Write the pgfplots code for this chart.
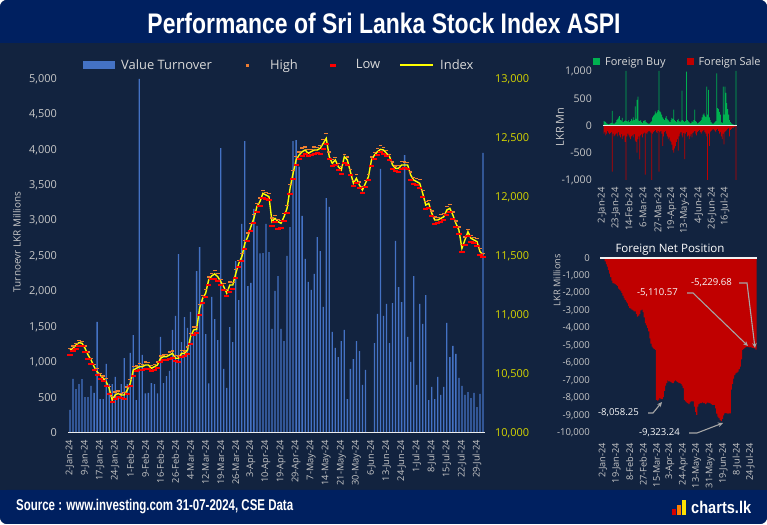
\documentclass[border=0pt]{standalone}
\usepackage{pgfplots}
\pgfplotsset{compat=1.18}
\usepackage{pgfplotstable}
\usetikzlibrary{arrows.meta}
\usepackage{graphicx}
\usepackage{fontspec}
\setmainfont{Open Sans}
\newfontfamily\titlefont{Liberation Sans}

\definecolor{panel}{RGB}{18,35,63}
\definecolor{banner}{RGB}{0,32,96}
\definecolor{barblue}{RGB}{68,114,196}
\definecolor{idxyellow}{RGB}{255,255,0}
\definecolor{hiorange}{RGB}{237,125,49}
\definecolor{lowred}{RGB}{255,0,0}
\definecolor{ticktext}{RGB}{200,200,200}
\definecolor{legtext}{RGB}{217,217,217}
\definecolor{axisyellow}{RGB}{214,214,0}
\definecolor{buygreen}{RGB}{0,176,80}
\definecolor{salered}{RGB}{192,0,0}
\definecolor{arrowgray}{RGB}{166,166,166}

\pgfplotstableread[row sep=\\]{
i t c h l\\
0 325 10703 10718 10663\\ 1 763 10718 10738 10693\\ 2 621 10746 10761 10716\\ 3 692 10766 10786 10741\\
4 762 10760 10775 10740\\ 5 508 10718 10738 10683\\ 6 508 10661 10686 10631\\ 7 664 10619 10634 10584\\
8 565 10562 10582 10532\\ 9 1568 10520 10545 10490\\ 10 480 10492 10507 10457\\ 11 480 10463 10483 10438\\
12 975 10435 10460 10395\\ 13 692 10379 10394 10334\\ 14 692 10280 10310 10260\\ 15 791 10322 10347 10292\\
16 508 10336 10356 10306\\ 17 692 10322 10337 10297\\ 18 1059 10322 10342 10292\\ 19 692 10364 10389 10329\\
20 1130 10421 10451 10396\\ 21 1384 10534 10564 10484\\ 22 466 10548 10568 10523\\ 23 5000 10562 10587 10532\\
24 1102 10562 10582 10537\\ 25 560 10576 10601 10541\\ 26 565 10576 10596 10546\\ 27 706 10548 10573 10528\\
28 692 10562 10582 10532\\ 29 560 10576 10601 10551\\ 30 1356 10633 10653 10598\\ 31 706 10647 10662 10622\\
32 805 10647 10667 10622\\ 33 876 10661 10686 10631\\ 34 1455 10675 10695 10635\\ 35 1653 10633 10658 10613\\
36 2528 10633 10653 10598\\ 37 1285 10675 10700 10645\\ 38 1638 10675 10695 10650\\ 39 1483 10703 10728 10673\\
40 1709 10816 10846 10756\\ 41 1408 10873 10898 10833\\ 42 2288 10879 10899 10849\\ 43 2627 11057 11087 10997\\
44 1878 11141 11166 11101\\ 45 1398 11184 11214 11149\\ 46 700 11297 11322 11252\\ 47 1921 11331 11351 11301\\
48 1610 11348 11378 11308\\ 49 1313 11325 11350 11290\\ 50 4025 11283 11303 11253\\ 51 904 11240 11265 11210\\
52 636 11184 11214 11164\\ 53 1497 11254 11279 11194\\ 54 1285 11254 11274 11224\\ 55 2429 11353 11383 11313\\
56 1878 11438 11463 11408\\ 57 2952 11494 11524 11454\\ 58 4124 11607 11632 11557\\ 59 2076 11664 11694 11624\\
60 2119 11749 11774 11714\\ 61 3164 11819 11849 11779\\ 62 2924 11918 11943 11873\\ 63 2538 11961 11991 11926\\
64 2542 12031 12056 11991\\ 65 2952 12017 12037 11987\\ 66 2556 12003 12028 11978\\ 67 1469 11791 11821 11751\\
68 2006 11819 11844 11789\\ 69 2217 11791 11811 11731\\ 70 1469 11777 11802 11737\\ 71 1299 11833 11863 11798\\
72 2500 11904 11929 11864\\ 73 2909 12074 12104 12024\\ 74 4124 12201 12226 12151\\ 75 4138 12314 12344 12274\\
76 3762 12356 12381 12326\\ 77 3065 12384 12414 12349\\ 78 2458 12398 12423 12368\\ 79 2133 12370 12400 12345\\
80 2020 12384 12404 12359\\ 81 2246 12398 12423 12368\\ 82 2768 12398 12418 12373\\ 83 2570 12413 12438 12363\\
84 1780 12455 12485 12405\\ 85 3319 12497 12537 12452\\ 86 3192 12342 12382 12322\\ 87 1427 12285 12315 12260\\
88 1201 12314 12334 12274\\ 89 1073 12257 12282 12227\\ 90 1299 12229 12259 12194\\ 91 1455 12342 12362 12292\\
92 480 12314 12339 12269\\ 93 904 12215 12235 12185\\ 94 1045 12116 12141 12091\\ 95 1299 12158 12188 12118\\
96 1158 12102 12127 12072\\ 97 678 12059 12089 12034\\ 98 890 12116 12141 12081\\ 99 0 12172 12192 12142\\
100 0 12314 12339 12264\\ 101 1271 12356 12376 12326\\ 102 1681 12384 12409 12354\\ 103 3729 12404 12434 12379\\
104 1653 12398 12418 12368\\ 105 1822 12370 12395 12345\\ 106 1271 12342 12362 12312\\ 107 1836 12271 12296 12241\\
108 2712 12243 12263 12218\\ 109 2062 12243 12268 12213\\ 110 1850 12271 12301 12241\\ 111 3926 12271 12296 12246\\
112 1356 12271 12291 12241\\ 113 1003 12187 12212 12147\\ 114 2217 12144 12164 12109\\ 115 678 12130 12155 12100\\
116 1822 12116 12146 12076\\ 117 1540 12031 12056 12001\\ 118 1949 11932 11962 11897\\ 119 466 11946 11971 11906\\
120 650 11862 11882 11837\\ 121 480 11805 11830 11775\\ 122 791 11805 11825 11780\\ 123 537 11819 11849 11789\\
124 650 11833 11858 11808\\ 125 1554 11890 11920 11850\\ 126 1073 11904 11934 11869\\ 127 1229 11847 11872 11817\\
128 1116 11777 11797 11747\\ 129 777 11720 11745 11690\\ 130 664 11565 11595 11535\\ 131 537 11636 11661 11596\\
132 579 11706 11726 11666\\ 133 494 11650 11675 11620\\ 134 565 11636 11656 11606\\ 135 367 11622 11647 11582\\
136 551 11537 11562 11507\\ 137 3955 11509 11524 11494\\
}\maindata

\pgfplotstableread[row sep=\\]{
i b s\\
0 80 -150\\ 1 70 -120\\ 2 60 -180\\ 3 40 -150\\ 4 30 -100\\ 5 20 -130\\ 6 30 -160\\ 7 40 -140\\ 8 50 -120\\ 9 270 -848\\
10 40 -150\\ 11 30 -200\\ 12 50 -180\\ 13 60 -160\\ 14 100 -140\\ 15 120 -200\\ 16 150 -120\\ 17 170 -180\\ 18 100 -220\\ 19 90 -160\\
20 140 -250\\ 21 60 -200\\ 22 80 -180\\ 23 90 -300\\ 24 1000 -1000\\ 25 80 -200\\ 26 70 -150\\ 27 100 -180\\ 28 60 -220\\ 29 80 -250\\
30 120 -200\\ 31 90 -180\\ 32 150 -220\\ 33 100 -160\\ 34 350 -280\\ 35 120 -300\\ 36 470 -500\\ 37 530 -250\\ 38 90 -200\\ 39 80 -620\\
40 100 -180\\ 41 60 -160\\ 42 50 -220\\ 43 80 -150\\ 44 90 -130\\ 45 100 -900\\ 46 60 -140\\ 47 50 -160\\ 48 40 -120\\ 49 30 -100\\
50 40 -110\\ 51 60 -130\\ 52 80 -1000\\ 53 150 -150\\ 54 180 -120\\ 55 200 -100\\ 56 260 -80\\ 57 220 -120\\ 58 250 -140\\ 59 280 -100\\
60 1000 -848\\ 61 260 -120\\ 62 240 -100\\ 63 200 -150\\ 64 150 -375\\ 65 120 -200\\ 66 100 -120\\ 67 140 -100\\ 68 170 -150\\ 69 120 -200\\
70 100 -250\\ 71 80 -220\\ 72 60 -280\\ 73 100 -300\\ 74 140 -350\\ 75 120 -450\\ 76 290 -500\\ 77 100 -420\\ 78 80 -380\\ 79 60 -300\\
80 100 -250\\ 81 120 -460\\ 82 80 -200\\ 83 60 -150\\ 84 90 -120\\ 85 640 -180\\ 86 100 -220\\ 87 80 -140\\ 88 60 -618\\ 89 80 -150\\
90 990 -120\\ 91 100 -200\\ 92 80 -180\\ 93 60 -250\\ 94 40 -200\\ 95 50 -160\\ 96 80 -220\\ 97 60 -140\\ 98 100 -120\\ 99 290 -100\\
100 80 -150\\ 101 60 -180\\ 102 40 -120\\ 103 50 -100\\ 104 60 -80\\ 105 80 -120\\ 106 100 -150\\ 107 150 -120\\ 108 200 -100\\ 109 220 -80\\
110 180 -120\\ 111 160 -150\\ 112 715 -200\\ 113 200 -1000\\ 114 655 -150\\ 115 150 -375\\ 116 100 -120\\ 117 60 -100\\ 118 40 -80\\ 119 30 -60\\
120 50 -80\\ 121 60 -100\\ 122 80 -120\\ 123 957 -80\\ 124 320 -60\\ 125 300 -100\\ 126 250 -150\\ 127 200 -120\\ 128 60 -200\\ 129 50 -250\\
130 715 -150\\ 131 200 -345\\ 132 715 -120\\ 133 600 -100\\ 134 412 -80\\ 135 300 -60\\ 136 200 -50\\ 137 100 -200\\ 138 60 -80\\ 139 40 -60\\
140 30 -40\\ 141 20 -50\\ 142 10 -30\\ 143 10 -20\\ 144 1000 -1000\\
}\fordata

\pgfplotstableread[row sep=\\]{
i n\\
0 0\\ 1 -50\\ 2 -200\\ 3 -350\\ 4 -500\\ 5 -700\\ 6 -900\\ 7 -1100\\ 8 -1300\\ 9 -1430\\
10 -1450\\ 11 -1500\\ 12 -1530\\ 13 -1600\\ 14 -1750\\ 15 -1810\\ 16 -1900\\ 17 -2000\\ 18 -2150\\ 19 -2300\\
20 -2400\\ 21 -2500\\ 22 -2600\\ 23 -2750\\ 24 -2860\\ 25 -2900\\ 26 -2950\\ 27 -3000\\ 28 -3050\\ 29 -3050\\
30 -3200\\ 31 -3350\\ 32 -3300\\ 33 -3200\\ 34 -3000\\ 35 -2950\\ 36 -3100\\ 37 -3400\\ 38 -3720\\ 39 -3850\\
40 -4000\\ 41 -4200\\ 42 -4600\\ 43 -4900\\ 44 -5070\\ 45 -5150\\ 46 -5200\\ 47 -5250\\ 48 -8110\\ 49 -8150\\
50 -8100\\ 51 -8000\\ 52 -8058\\ 53 -8058\\ 54 -7950\\ 55 -7600\\ 56 -7300\\ 57 -7150\\ 58 -7000\\ 59 -7050\\
60 -7050\\ 61 -7100\\ 62 -7150\\ 63 -7150\\ 64 -7050\\ 65 -7000\\ 66 -7050\\ 67 -7100\\ 68 -7150\\ 69 -7150\\
70 -7200\\ 71 -7300\\ 72 -7430\\ 73 -8110\\ 74 -8200\\ 75 -8250\\ 76 -8300\\ 77 -8350\\ 78 -8250\\ 79 -8200\\
80 -8200\\ 81 -8200\\ 82 -8500\\ 83 -8800\\ 84 -8970\\ 85 -8500\\ 86 -8350\\ 87 -8300\\ 88 -8300\\ 89 -8250\\
90 -8300\\ 91 -8300\\ 92 -8350\\ 93 -8300\\ 94 -8250\\ 95 -8300\\ 96 -8300\\ 97 -8350\\ 98 -8400\\ 99 -8400\\
100 -8400\\ 101 -8600\\ 102 -8900\\ 103 -9070\\ 104 -9150\\ 105 -9250\\ 106 -9323\\ 107 -9200\\ 108 -9000\\ 109 -8880\\
110 -8850\\ 111 -8880\\ 112 -8900\\ 113 -8880\\ 114 -8880\\ 115 -7520\\ 116 -7200\\ 117 -6900\\ 118 -6690\\ 119 -6600\\
120 -6550\\ 121 -6500\\ 122 -6350\\ 123 -6210\\ 124 -5800\\ 125 -5250\\ 126 -5200\\ 127 -5150\\ 128 -5100\\ 129 -5070\\
130 -5080\\ 131 -5111\\ 132 -5100\\ 133 -5110\\ 134 -5130\\ 135 -5150\\ 136 -5170\\ 137 -5230\\
}\netdata

\pgfplotsset{
  /pgf/number format/1000 sep={,},
  /pgf/number format/assume math mode=true,
  scaled ticks=false,
}

\begin{document}
\begin{tikzpicture}[x=1bp,y=1bp]
\useasboundingbox (0,0) rectangle (767,525);
\fill[white] (0,0) rectangle (767,525);
\fill[panel, rounded corners=7bp] (0,1) rectangle (767,525);
% title banner
\fill[banner, rounded corners=7bp] (0,482) rectangle (767,525);
\fill[banner] (0,482) rectangle (767,492);
\node[anchor=base, inner sep=0pt, text=white] at (384,491.7)
  {\resizebox{473bp}{20.5bp}{\titlefont\bfseries Performance of Sri Lanka Stock Index ASPI}};
% footer
\fill[banner, rounded corners=7bp] (0,1) rectangle (767,35);
\fill[banner] (0,25) rectangle (767,35);
\node[anchor=base west, inner sep=0pt, text=white] at (16,14)
  {\resizebox{277bp}{11.3bp}{\titlefont\bfseries Source : www.investing.com 31-07-2024, CSE Data}};
\node[anchor=base west, inner sep=0pt, text=white] at (691,11)
  {\resizebox{60bp}{12.3bp}{\titlefont\bfseries charts.lk}};
\fill[red!85!black] (672,10) rectangle (676,16);
\fill[orange] (677,10) rectangle (681,20);
\fill[yellow!85!orange] (682,10) rectangle (686,25);

% ---------- main turnover axis ----------
\begin{axis}[
  at={(68bp,92bp)}, anchor=south west, scale only axis,
  width=417bp, height=354bp,
  xmin=-0.66, xmax=137.66, ymin=0, ymax=5000,
  axis line style={draw=none}, major tick length=0pt,
  xtick={0,5,...,135},
  xticklabels={2-Jan-24,9-Jan-24,17-Jan-24,24-Jan-24,1-Feb-24,9-Feb-24,16-Feb-24,26-Feb-24,4-Mar-24,12-Mar-24,19-Mar-24,26-Mar-24,3-Apr-24,10-Apr-24,19-Apr-24,29-Apr-24,7-May-24,14-May-24,21-May-24,30-May-24,6-Jun-24,13-Jun-24,24-Jun-24,1-Jul-24,8-Jul-24,15-Jul-24,22-Jul-24,29-Jul-24},
  ytick={0,500,...,5000},
  yticklabel style={font=\fontsize{11}{13}\selectfont, text=ticktext, inner sep=0pt, xshift=-11bp, anchor=east},
  xticklabel style={font=\fontsize{9.3}{11}\selectfont, text=ticktext, inner sep=0pt, yshift=-7bp, rotate=90, anchor=east},
]
\addplot[ybar, bar width=1.3pt, fill=barblue, draw=none] table[x=i,y=t]{\maindata};
\draw[white!85!gray, line width=1.2bp] (rel axis cs:0,0) -- (rel axis cs:1,0);
\end{axis}

% ---------- index axis ----------
\begin{axis}[
  at={(68bp,92bp)}, anchor=south west, scale only axis,
  width=417bp, height=354bp,
  xmin=-0.66, xmax=137.66, ymin=10000, ymax=13000,
  hide x axis, axis y line*=right, y axis line style={draw=none}, major tick length=0pt,
  ytick={10000,10500,...,13000},
  yticklabel style={font=\fontsize{11}{13}\selectfont, text=axisyellow, inner sep=0pt, xshift=10bp, anchor=west},
  legend columns=4, legend cell align=left,
  legend style={at={(axis description cs:0.036,1.0395)}, anchor=west, draw=none, fill=none,
    inner sep=0pt, font=\fontsize{13}{15}\selectfont, text=legtext, column sep=4bp,
    /tikz/every even column/.append style={column sep=17bp}},
]
\addlegendimage{legend image code/.code={\fill[barblue, draw=none] (0bp,-4bp) rectangle (32bp,4bp);}}
\addlegendentry{Value Turnover}
\addlegendimage{legend image code/.code={\path[draw=none, fill=none] (0bp,-1bp) rectangle (33bp,1bp); \fill[hiorange, draw=none] (15bp,-1.5bp) rectangle (18bp,1.5bp);}}
\addlegendentry{High}
\addlegendimage{legend image code/.code={\path[draw=none, fill=none] (0bp,-1bp) rectangle (33bp,1bp); \fill[lowred, draw=none] (13bp,-1.5bp) rectangle (19bp,1.5bp);}}
\addlegendentry{Low}
\addlegendimage{legend image code/.code={\draw[idxyellow, line width=2bp] (0bp,0bp) -- (33bp,0bp);}}
\addlegendentry{Index}
\addplot[idxyellow, line width=1.4bp, forget plot] table[x=i,y=c]{\maindata};
\addplot[only marks, mark=-, mark size=1.8bp, mark options={draw=hiorange, line width=1.3bp}, forget plot] table[x=i,y=h]{\maindata};
\addplot[only marks, mark=-, mark size=2.6bp, mark options={draw=lowred, line width=2bp}, forget plot] table[x=i,y=l]{\maindata};
\end{axis}

% ---------- foreign buy / sale ----------
\begin{axis}[
  at={(602bp,345bp)}, anchor=south west, scale only axis,
  width=135bp, height=109bp,
  xmin=-2.2, xmax=145.09, ymin=-1000, ymax=1000,
  axis line style={draw=none}, major tick length=0pt,
  xtick={-2,13,27,42.5,59,74,88,103.5,118,132},
  xticklabels={2-Jan-24,23-Jan-24,14-Feb-24,6-Mar-24,27-Mar-24,19-Apr-24,13-May-24,4-Jun-24,26-Jun-24,16-Jul-24},
  ytick={-1000,-500,0,500,1000},
  yticklabel style={font=\fontsize{10.6}{12}\selectfont, text=ticktext, inner sep=0pt, xshift=-10bp, anchor=east},
  xticklabel style={font=\fontsize{9.5}{11}\selectfont, text=ticktext, inner sep=0pt, yshift=-7bp, rotate=90, anchor=east},
  legend columns=2, legend cell align=left,
  legend style={at={(axis description cs:-0.067,1.083)}, anchor=west, draw=none, fill=none,
    inner sep=0pt, font=\fontsize{11}{13}\selectfont, text=legtext, column sep=3bp,
    /tikz/every even column/.append style={column sep=19bp}},
]
\addlegendimage{legend image code/.code={\fill[buygreen, draw=none] (0bp,-3.5bp) rectangle (7bp,3.5bp);}}
\addlegendentry{Foreign Buy}
\addlegendimage{legend image code/.code={\fill[salered, draw=none] (0bp,-3.5bp) rectangle (7bp,3.5bp);}}
\addlegendentry{Foreign Sale}
\addplot[ybar, bar width=0.75pt, bar shift=0pt, fill=buygreen, draw=none, forget plot] table[x=i,y=b]{\fordata};
\addplot[ybar, bar width=0.75pt, bar shift=0pt, fill=salered, draw=none, forget plot] table[x=i,y=s]{\fordata};
\draw[white!85!gray, line width=1.2bp] (axis cs:-1.09,0) -- (axis cs:145.09,0);
\end{axis}

% ---------- foreign net position ----------
\begin{axis}[
  at={(600bp,92bp)}, anchor=south west, scale only axis,
  width=157bp, height=175bp,
  xmin=-2.7, xmax=138, ymin=-10000, ymax=0,
  axis line style={draw=none}, major tick length=0pt,
  xtick={0,12,...,132},
  xticklabels={2-Jan-24,19-Jan-24,8-Feb-24,27-Feb-24,15-Mar-24,3-Apr-24,24-Apr-24,13-May-24,31-May-24,19-Jun-24,8-Jul-24,24-Jul-24},
  ytick={-10000,-9000,...,0},
  yticklabel style={font=\fontsize{9.6}{11}\selectfont, text=ticktext, inner sep=0pt, xshift=-10bp, anchor=east},
  xticklabel style={font=\fontsize{9.2}{11}\selectfont, text=ticktext, inner sep=0pt, yshift=-10bp, rotate=90, anchor=east},
]
\addplot[ybar, bar width=1.25pt, fill=salered, draw=none] table[x=i,y=n]{\netdata};
\draw[white!90!gray, line width=1.2bp] (rel axis cs:0,1) -- (rel axis cs:1,1);
\end{axis}

% axis titles
\node[rotate=90, text=ticktext, font=\fontsize{10}{12}\selectfont] at (17,283) {Turnoevr LKR Millions};
\node[rotate=90, text=ticktext, font=\fontsize{11}{13}\selectfont] at (560,398) {LKR Mn};
\node[rotate=90, text=ticktext, font=\fontsize{9.3}{11}\selectfont] at (557,245) {LKR Millions};
\node[text=white, font=\fontsize{11.6}{13}\selectfont] at (670,275) {Foreign Net Position};

% annotations
\begin{scope}[font=\fontsize{9.6}{11}\selectfont, text=white!95!gray]
\node at (711.5,242) {-5,229.68};
\node at (657.5,232) {-5,110.57};
\node at (618.5,112) {-8,058.25};
\node at (659.5,92) {-9,323.24};
\end{scope}
\begin{scope}[draw=arrowgray, line width=1.1bp, -{Stealth[length=5bp,width=4.5bp]}]
\draw (739,242) -- (747,242) -- (755,177);
\draw (687,232) -- (693,232) -- (748,179);
\draw (648,112) -- (653,112) -- (662,123);
\draw (689,92) -- (697,92) -- (723,102);
\end{scope}
\end{tikzpicture}
\end{document}
